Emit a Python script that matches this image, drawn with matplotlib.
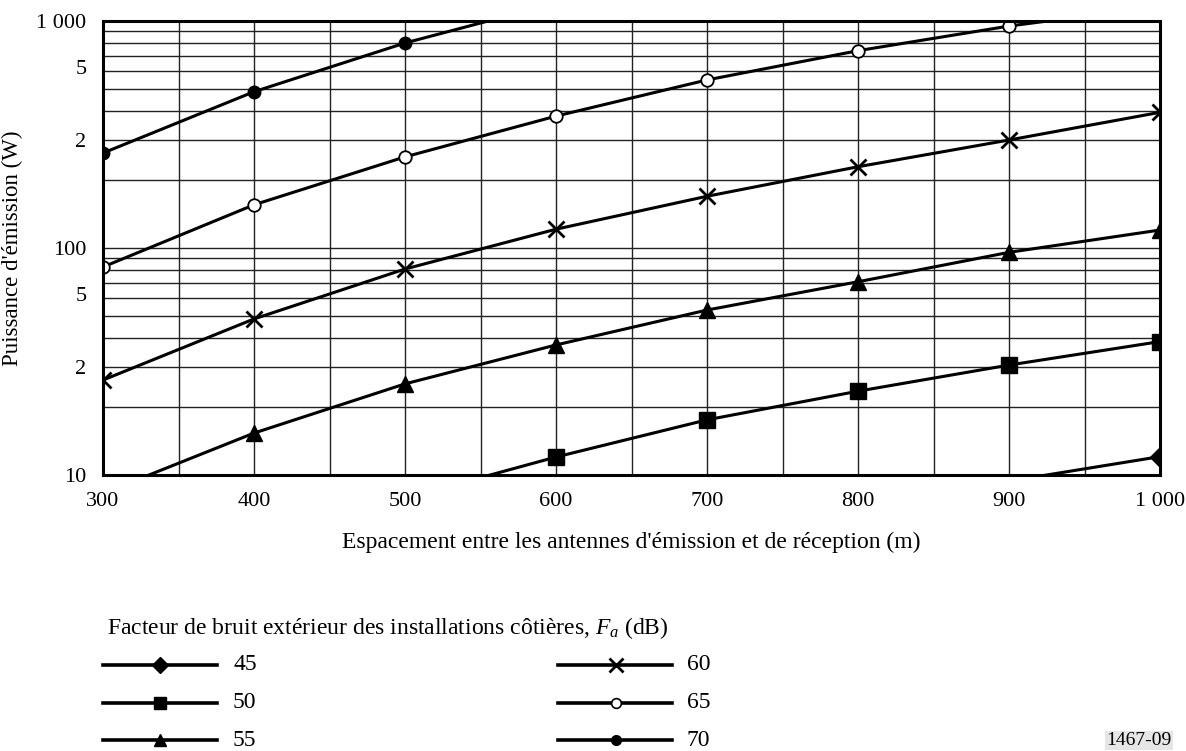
import numpy as np
import matplotlib
matplotlib.use("Agg")
import matplotlib.pyplot as plt
from matplotlib.ticker import FixedLocator, NullFormatter

plt.rcParams['font.family'] = ['Liberation Serif', 'DejaVu Serif']
plt.rcParams['mathtext.fontset'] = 'custom'
plt.rcParams['mathtext.rm'] = 'Liberation Serif'
plt.rcParams['mathtext.it'] = 'Liberation Serif:italic'

# spacing between antennas (m)
distance = [300, 400, 500, 600, 700, 800, 900, 1000]

# transmit power (W) for each coastal noise factor Fa (dB); points outside 10..1000 only carry the line to the frame
p45 = [np.nan, np.nan, np.nan, np.nan, np.nan, np.nan, 9.4, 12.05]
p50 = [np.nan, np.nan, 7.9, 12.0, 17.5, 23.4, 30.5, 38.7]
p55 = [8.3, 15.3, 25.2, 37.4, 53.3, 71.0, 95.7, 120.0]
p60 = [26.2, 48.7, 80.8, 121.0, 169.0, 228.0, 299.0, 396.0]
p65 = [82.5, 155.0, 252.0, 381.0, 550.0, 740.0, 950.0, 1160.0]
p70 = [262.0, 488.0, 800.0, 1200.0, np.nan, np.nan, np.nan, np.nan]

fa_labels = ['45', '50', '55', '60', '65', '70']

xtick_vals = [300, 400, 500, 600, 700, 800, 900, 1000]
xtick_labels = ['300', '400', '500', '600', '700', '800', '900', '1 000']
ytick_vals = [10, 30, 63, 100, 300, 630, 1000]
ytick_labels = ['10', '2', '5', '100', '2', '5', '1 000']

styles = [
    dict(marker='D', ms=10, mfc='k', mec='k'),
    dict(marker='s', ms=11, mfc='k', mec='k'),
    dict(marker='^', ms=11, mfc='k', mec='k'),
    dict(marker='x', ms=12, mfc='k', mec='k', mew=2.0),
    dict(marker='o', ms=9, mfc='white', mec='k', mew=1.3),
    dict(marker='o', ms=9, mfc='k', mec='k'),
]
leg_styles = [
    dict(marker='D', ms=8, mfc='k', mec='k'),
    dict(marker='s', ms=9, mfc='k', mec='k'),
    dict(marker='^', ms=9, mfc='k', mec='k'),
    dict(marker='x', ms=10, mfc='k', mec='k', mew=2.0),
    dict(marker='o', ms=7, mfc='white', mec='k', mew=1.2),
    dict(marker='o', ms=7, mfc='k', mec='k'),
]

W, H = 1186, 751
fig = plt.figure(figsize=(W / 100, H / 100), dpi=100)
ax = fig.add_axes([103 / W, 1 - 475 / H, (1160 - 103) / W, (475 - 21) / H])
ax.set_yscale('log')
ax.set_xlim(300, 1000)
ax.set_ylim(10, 1000)

# grid
ygrid = [v * d for d in (10, 100) for v in range(1, 10)] + [1000]
for g in ygrid:
    ax.axhline(g, color='#222222', lw=1.0, zorder=1)
for g in range(350, 1000, 50):
    ax.axvline(g, color='#222222', lw=1.0, zorder=1)

x = np.array(distance, dtype=float)
for vals, st in zip([p45, p50, p55, p60, p65, p70], styles):
    y = np.array(vals, dtype=float)
    ax.plot(x, y, color='k', lw=2.2, zorder=3)
    inside = (y >= 10) & (y <= 1000)
    ax.plot(x[inside], y[inside], ls='none', zorder=4, **st)

ax.set_xticks(xtick_vals)
ax.set_xticklabels(xtick_labels)
ax.yaxis.set_major_locator(FixedLocator(ytick_vals))
ax.yaxis.set_minor_locator(FixedLocator([]))
ax.yaxis.set_minor_formatter(NullFormatter())
ax.set_yticklabels(ytick_labels)
ax.tick_params(axis='both', length=0, labelsize=16)
ax.tick_params(axis='x', pad=12)
ax.tick_params(axis='y', pad=12)
for s in ax.spines.values():
    s.set_linewidth(2.2)
    s.set_zorder(5)

ax.set_xlabel("Espacement entre les antennes d'émission et de réception (m)", fontsize=17)
ax.xaxis.set_label_coords(0.5, -0.125)
ax.set_ylabel("Puissance d'émission (W)", fontsize=16.5)
ax.yaxis.set_label_coords(-0.076, 0.5)

# legend drawn in figure pixels
lax = fig.add_axes([0, 0, 1, 1])
lax.set_xlim(0, W)
lax.set_ylim(H, 0)
lax.axis('off')
lax.text(107, 628, "Facteur de bruit extérieur des installations côtières, $F_a$ (dB)",
         fontsize=17, va='center', ha='left')
rows = [665, 703, 740]
cols = [(103, 217, 160, 233), (558, 672, 616, 687)]
for i, (lab, st) in enumerate(zip(fa_labels, leg_styles)):
    x0, x1, xm, xt = cols[i // 3]
    yr = rows[i % 3]
    lax.plot([x0, x1], [yr, yr], color='k', lw=2.6)
    lax.plot([xm], [yr], ls='none', **st)
    lax.text(xt, yr, lab, fontsize=17, va='center', ha='left')

lax.text(1106, 749, "1467-09", fontsize=14, va='bottom', ha='left',
         bbox=dict(facecolor='#e6e6e6', edgecolor='none', pad=1))

fig.savefig("out.png", dpi=100)
